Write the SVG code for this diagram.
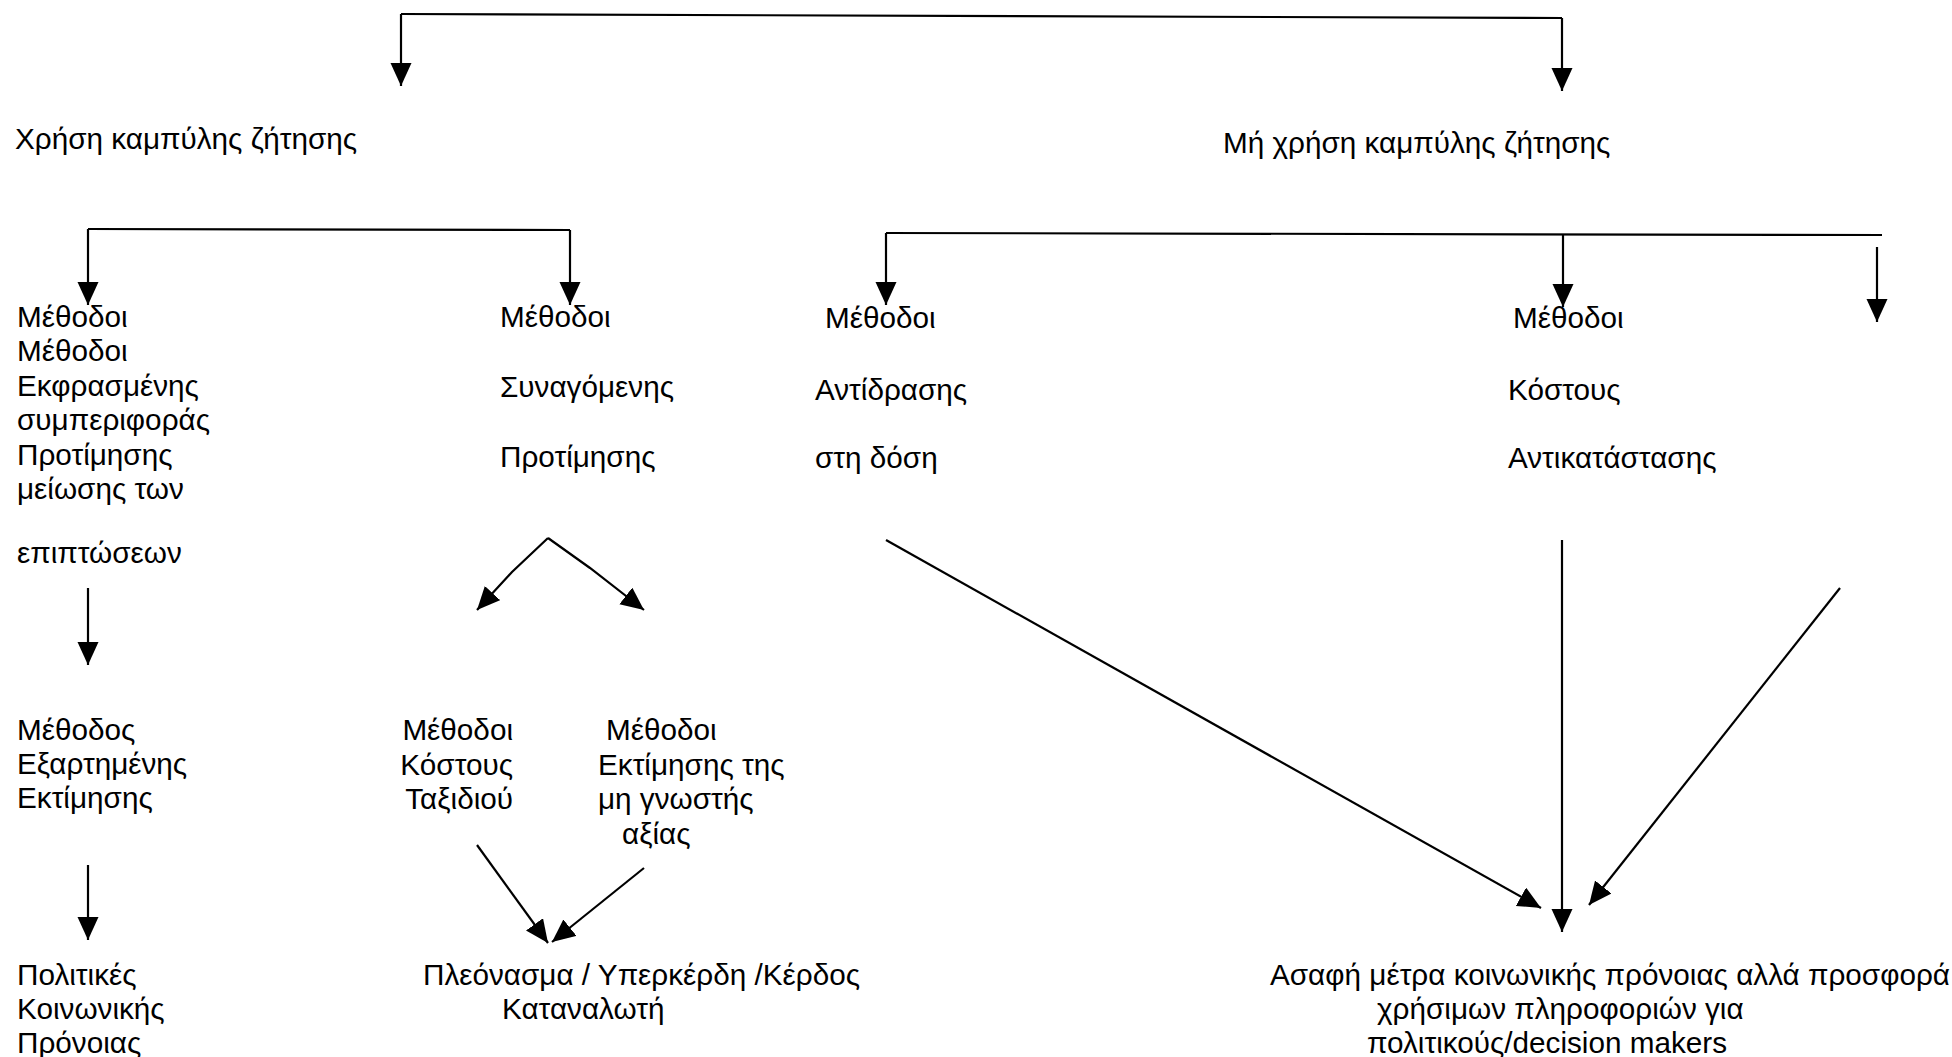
<svg xmlns="http://www.w3.org/2000/svg" width="1952" height="1057" viewBox="0 0 1952 1057">
<style>
text{font-family:"Liberation Sans",Arial,sans-serif;font-size:29.7px;fill:#000}
.c{fill:none;stroke:#000;stroke-width:2.2}
.a{marker-end:url(#ah)}
</style>
<defs>
<marker id="ah" markerUnits="userSpaceOnUse" markerWidth="26" markerHeight="24" refX="23" refY="10.5" orient="auto">
<path d="M0,0 L23,10.5 L0,21 z" fill="#000"/>
</marker>
</defs>
<rect width="1952" height="1057" fill="#fff"/>
<g id="connectors">
<path class="c" d="M401,14 L1562,18"/>
<path class="c a" d="M401,14 L401,86"/>
<path class="c a" d="M1562,18 L1562,91"/>
<path class="c" d="M88,229 L570,230"/>
<path class="c a" d="M88,229 L88,305"/>
<path class="c a" d="M570,230 L570,305"/>
<path class="c" d="M886,233 L1882,235"/>
<path class="c a" d="M886,233 L886,305"/>
<path class="c a" d="M1563,234 L1563,307"/>
<path class="c a" d="M1877,247 L1877,322"/>
<path class="c a" d="M88,588 L88,665"/>
<path class="c a" d="M88,865 L88,940"/>
<path class="c a" d="M548,538 L512,572 L477,610"/>
<path class="c a" d="M548,538 L590,568 L644,610"/>
<path class="c a" d="M477,845 L548,943"/>
<path class="c a" d="M644,868 L552,942"/>
<path class="c a" d="M886,540 L1541,908"/>
<path class="c a" d="M1562,540 L1562,932"/>
<path class="c a" d="M1840,588 L1589,905"/>
</g>
<g id="n_use"><text x="15" y="149">Χρήση καμπύλης ζήτησης</text></g>
<g id="n_nouse"><text x="1223" y="153">Μή χρήση καμπύλης ζήτησης</text></g>
<g id="n_stated">
<text x="17" y="327">Μέθοδοι</text>
<text x="17" y="361">Μέθοδοι</text>
<text x="17" y="396">Εκφρασμένης</text>
<text x="17" y="430">συμπεριφοράς</text>
<text x="17" y="465">Προτίμησης</text>
<text x="17" y="499">μείωσης των</text>
<text x="17" y="563">επιπτώσεων</text>
</g>
<g id="n_revealed">
<text x="500" y="327">Μέθοδοι</text>
<text x="500" y="397">Συναγόμενης</text>
<text x="500" y="467">Προτίμησης</text>
</g>
<g id="n_doseresp">
<text x="825" y="328">Μέθοδοι</text>
<text x="815" y="400">Αντίδρασης</text>
<text x="815" y="468">στη δόση</text>
</g>
<g id="n_replcost">
<text x="1513" y="328">Μέθοδοι</text>
<text x="1508" y="400">Κόστους</text>
<text x="1508" y="468">Αντικατάστασης</text>
</g>
<g id="n_contingent">
<text x="17" y="740">Μέθοδος</text>
<text x="17" y="774">Εξαρτημένης</text>
<text x="17" y="808">Εκτίμησης</text>
</g>
<g id="n_travel" text-anchor="end">
<text x="513" y="740">Μέθοδοι</text>
<text x="513" y="775">Κόστους</text>
<text x="513" y="809">Ταξιδιού</text>
</g>
<g id="n_hedonic">
<text x="606" y="740">Μέθοδοι</text>
<text x="598" y="775">Εκτίμησης της</text>
<text x="598" y="809">μη γνωστής</text>
<text x="622" y="844">αξίας</text>
</g>
<g id="n_welfare">
<text x="17" y="985">Πολιτικές</text>
<text x="17" y="1019">Κοινωνικής</text>
<text x="17" y="1053">Πρόνοιας</text>
</g>
<g id="n_surplus">
<text x="423" y="985">Πλεόνασμα / Υπερκέρδη /Κέρδος</text>
<text x="502" y="1019">Καταναλωτή</text>
</g>
<g id="n_vague">
<text x="1270" y="985">Ασαφή μέτρα κοινωνικής πρόνοιας αλλά προσφορά</text>
<text x="1377" y="1019">χρήσιμων πληροφοριών για</text>
<text x="1367" y="1053">πολιτικούς/decision makers</text>
</g>
</svg>
